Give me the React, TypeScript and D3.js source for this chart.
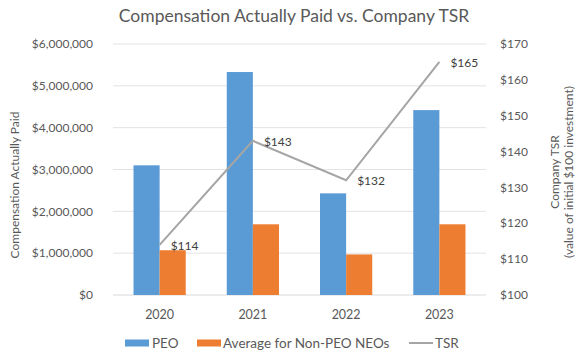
import React from "react";
import * as d3 from "d3";

const years = ["2020", "2021", "2022", "2023"];
const peo = [3100000, 5330000, 2430000, 4420000];
const nonPeo = [1070000, 1690000, 970000, 1690000];
const tsr = [114, 143, 132, 165];
const leftTicks = [0, 1000000, 2000000, 3000000, 4000000, 5000000, 6000000];
const rightTicks = [100, 110, 120, 130, 140, 150, 160, 170];

const W = 584, H = 357;
const FONT = "Lato, 'Open Sans', sans-serif";
const TXT = "#595959";
const BLUE = "#5B9BD5", ORANGE = "#ED7D31", GRAY = "#A5A5A5";

export default function App() {
  const left = 113, right = 486, top = 44, bottom = 295;
  const x = d3.scaleBand().domain(years).range([left, right]);
  const yL = d3.scaleLinear().domain([0, 6000000]).range([bottom, top]);
  const yR = d3.scaleLinear().domain([100, 170]).range([bottom, top]);
  const bw = x.bandwidth() * 0.28;
  const cx = (y: string) => (x(y) as number) + x.bandwidth() / 2;
  const fmt = d3.format("$,.0f");
  const line = d3.line<number>().x((_, i) => cx(years[i])).y((d) => yR(d));

  return (
    <svg width={W} height={H} style={{ position: "absolute", left: 0, top: 0, background: "#fff" }} fontFamily={FONT}>
      <rect width={W} height={H} fill="#fff" />
      <text x={294} y={22} textAnchor="middle" fontSize={17.5} fill={TXT}>
        Compensation Actually Paid vs. Company TSR
      </text>
      {leftTicks.map((t) => (
        <g key={t}>
          <line x1={left} x2={right} y1={yL(t)} y2={yL(t)} stroke={t === 0 ? "#D9D9D9" : "#E3E3E3"} strokeWidth={1} />
          <text x={93} y={yL(t)} dy="0.35em" textAnchor="end" fontSize={12} fill={TXT}>
            {fmt(t)}
          </text>
        </g>
      ))}
      {rightTicks.map((t) => (
        <text key={t} x={500} y={yR(t)} dy="0.35em" textAnchor="start" fontSize={12} fill={TXT}>
          {fmt(t)}
        </text>
      ))}
      {years.map((yr, i) => (
        <g key={yr}>
          <rect x={cx(yr) - bw} y={yL(peo[i])} width={bw} height={bottom - yL(peo[i])} fill={BLUE} />
          <rect x={cx(yr)} y={yL(nonPeo[i])} width={bw} height={bottom - yL(nonPeo[i])} fill={ORANGE} />
          <text x={cx(yr)} y={315} dy="0.35em" textAnchor="middle" fontSize={12.5} fill={TXT}>
            {yr}
          </text>
        </g>
      ))}
      <path d={line(tsr) as string} fill="none" stroke={GRAY} strokeWidth={2} />
      {tsr.map((v, i) => (
        <text key={i} x={cx(years[i]) + 11} y={yR(v) + 1} dy="0.35em" fontSize={12} fill="#404040">
          {fmt(v)}
        </text>
      ))}
      <text transform={`translate(15,185) rotate(-90)`} textAnchor="middle" dy="0.35em" fontSize={12} fill={TXT}>
        Compensation Actually Paid
      </text>
      <text transform={`translate(555,172) rotate(-90)`} textAnchor="middle" dy="0.35em" fontSize={12} fill={TXT}>
        Company TSR
      </text>
      <text transform={`translate(569,172) rotate(-90)`} textAnchor="middle" dy="0.35em" fontSize={12} fill={TXT}>
        (value of initial $100 investment)
      </text>
      <g fontSize={13.5} fill={TXT}>
        <rect x={125} y={339.5} width={24} height={7} fill={BLUE} />
        <text x={152} y={343} dy="0.35em">PEO</text>
        <rect x={197} y={339.5} width={24} height={7} fill={ORANGE} />
        <text x={223} y={343} dy="0.35em">Average for Non-PEO NEOs</text>
        <line x1={409} x2={433} y1={343} y2={343} stroke={GRAY} strokeWidth={2} />
        <text x={435} y={343} dy="0.35em">TSR</text>
      </g>
    </svg>
  );
}
